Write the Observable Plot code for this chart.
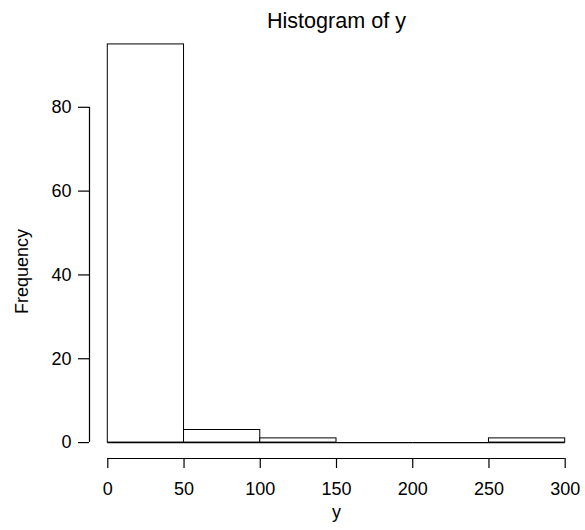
<!DOCTYPE html>
<html>
<head>
<meta charset="utf-8">
<script src="https://cdn.jsdelivr.net/npm/d3@7"></script>
<script src="https://cdn.jsdelivr.net/npm/@observablehq/plot@0.6"></script>
<style>
  html, body { margin: 0; padding: 0; background: white; }
  svg { font-family: "Liberation Sans", Arial, Helvetica, sans-serif; }
</style>
</head>
<body>
<div id="chart"></div>
<script>
const binStart = [0, 50, 100, 150, 200, 250];
const binEnd = [50, 100, 150, 200, 250, 300];
const counts = [95, 3, 1, 0, 0, 1];
const xTicks = [0, 50, 100, 150, 200, 250, 300];
const yTicks = [0, 20, 40, 60, 80];
const title = "Histogram of y";
const xLabel = "y";
const yLabel = "Frequency";

const data = binStart.map((s, i) => ({x1: s, x2: binEnd[i], count: counts[i]}));

function extend(lo, hi) { const d = (hi - lo) * 0.04; return [lo - d, hi + d]; }
const xDom = extend(binStart[0], binEnd[binEnd.length - 1]);
const yDom = extend(0, d3.max(counts));

const chart = Plot.plot({
  width: 585,
  height: 530,
  marginLeft: 89,
  marginRight: 2,
  marginTop: 28,
  marginBottom: 72,
  style: {fontFamily: '"Liberation Sans", Arial, Helvetica, sans-serif', fontSize: "18px", background: "white", color: "black"},
  x: {domain: xDom},
  y: {domain: yDom},
  marks: [
    Plot.rect(data, {x1: "x1", x2: "x2", y1: 0, y2: "count", fill: "white", stroke: "black", strokeWidth: 1}),
    Plot.ruleY(data, {x1: "x1", x2: "x2", y: 0, stroke: "black", strokeWidth: 1.2}),
    Plot.ruleY([yDom[0]], {x1: xTicks[0], x2: xTicks[xTicks.length - 1], stroke: "black", strokeWidth: 1.2}),
    Plot.ruleX([xDom[0]], {y1: yTicks[0], y2: yTicks[yTicks.length - 1], stroke: "black", strokeWidth: 1.2}),
    Plot.axisX({ticks: xTicks, tickSize: 10, tickPadding: 14, fontSize: 18, label: null, strokeWidth: 1.2}),
    Plot.axisY({ticks: yTicks, tickSize: 11, tickPadding: 7, fontSize: 18, label: null, strokeWidth: 1.2}),
    Plot.text([title], {frameAnchor: "top", dy: -7, fontSize: 21.6, lineAnchor: "middle"}),
    Plot.text([xLabel], {frameAnchor: "bottom", dy: 59, fontSize: 18}),
    Plot.text([yLabel], {frameAnchor: "left", dx: -67, dy: 28, rotate: -90, textAnchor: "middle", fontSize: 18})
  ]
});
document.getElementById("chart").appendChild(chart);
</script>
</body>
</html>
